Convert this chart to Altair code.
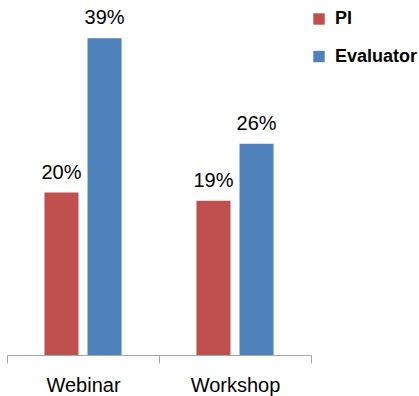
import altair as alt
import pandas as pd

categories = ["Webinar", "Webinar", "Workshop", "Workshop"]
series = ["PI", "Evaluator", "PI", "Evaluator"]
values = [20, 39, 19, 26]
labels = ["20%", "39%", "19%", "26%"]

df = pd.DataFrame({"cat": categories, "series": series, "value": values, "label": labels})

FONT = "Liberation Sans"
order = ["PI", "Evaluator"]

x = alt.X("cat:N", title=None,
          scale=alt.Scale(paddingInner=0, paddingOuter=0),
          axis=alt.Axis(labelAngle=0, tickBand="extent", domainColor="#a6a6a6",
                        tickColor="#a6a6a6", tickSize=8, labelFontSize=20,
                        labelFont=FONT, labelColor="#000000", labelPadding=12,
                        grid=False))
xo = alt.XOffset("series:N", sort=order,
                 scale=alt.Scale(paddingInner=0.21, paddingOuter=0.87))
y = alt.Y("value:Q", scale=alt.Scale(domain=[0, 40]), axis=None)

bars = alt.Chart(df).mark_bar(size=34).encode(
    x=x, xOffset=xo, y=y,
    color=alt.Color("series:N", sort=order,
                    scale=alt.Scale(domain=order, range=["#C0504D", "#4F81BD"]),
                    legend=alt.Legend(title=None, orient="none", legendX=303, legendY=-20,
                                      symbolType="square", symbolSize=130,
                                      labelFontSize=18, labelFont=FONT, labelFontWeight="bold",
                                      labelColor="#000000", rowPadding=19.5, symbolStrokeWidth=0,
                                      labelOffset=7)),
)

text = alt.Chart(df).mark_text(baseline="alphabetic", dy=-14, fontSize=20, font=FONT, color="#000000").encode(
    x=x, xOffset=xo, y=y, text="label:N"
)

chart = (bars + text).properties(
    width=304, height=325,
    autosize=alt.AutoSizeParams(type="none"),
    padding={"left": 7, "top": 30, "right": 108, "bottom": 41},
).configure_view(stroke=None)

chart.save("out.html", embed_options={"renderer": "svg", "actions": False})
